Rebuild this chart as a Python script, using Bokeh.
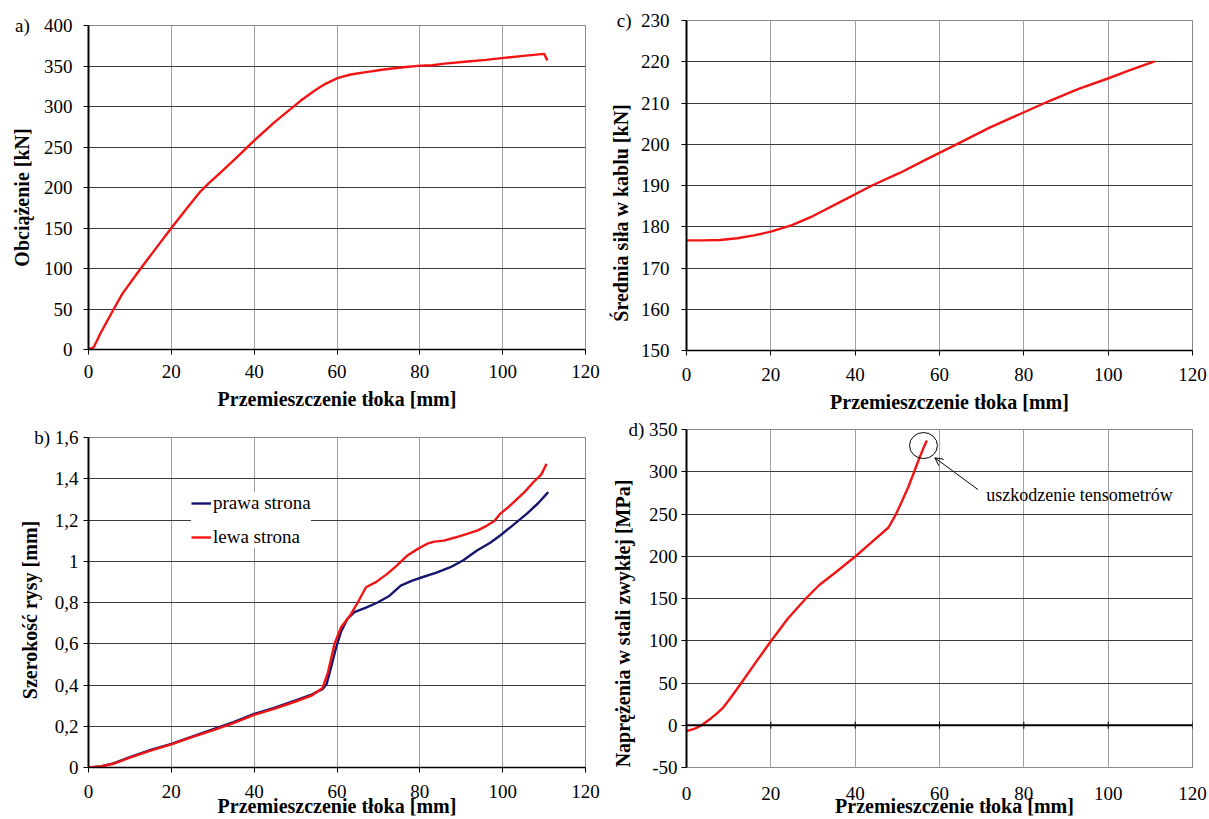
import math
from bokeh.plotting import figure
from bokeh.models import Range1d, FixedTicker, Label, Legend, LegendItem, Arrow, OpenHead, Span
from bokeh.layouts import column, row
from bokeh.embed import file_html
from bokeh.resources import INLINE

SERIF = "Liberation Serif"
NB = "\u00a0"

# ---------------- data ----------------
x_ticks = [0, 20, 40, 60, 80, 100, 120]
x_tick_labels = ["0", "20", "40", "60", "80", "100", "120"]
x_title = "Przemieszczenie tłoka [mm]"

# a) load vs piston displacement
a_y_ticks = [0, 50, 100, 150, 200, 250, 300, 350, 400]
a_y_tick_labels = ["0", "50", "100", "150", "200", "250", "300", "350", "400"]
a_x = [0, 1.3, 2.9, 4.5, 6.1, 8.2, 12.6, 16, 20, 24, 27, 29, 32, 36, 40,
       45, 51.2, 55, 57.2, 60.1, 63.3, 67, 71.3, 76, 80.2, 83, 86, 91.5, 96, 100.3, 105, 110, 110.8]
a_load = [0, 3, 20, 35, 50, 69, 100, 123, 150, 176, 195, 205, 219, 238, 258,
          281, 307, 321, 328, 335, 339.5, 342.5, 345.7, 348.5, 350.5, 351, 353, 355.6, 357.5, 360, 362.5, 365, 357]

# b) crack width
b_y_ticks = [0, 0.2, 0.4, 0.6, 0.8, 1.0, 1.2, 1.4, 1.6]
b_y_tick_labels = ["0", "0,2", "0,4", "0,6", "0,8", "1", "1,2", "1,4", "1,6"]
b_right_x = [0, 3, 6, 10, 15, 20, 25, 30, 35, 40, 45, 50, 54, 56.5, 57.5, 58.5, 59.8, 61, 62.5,
             64.2, 67, 69.8, 72.5, 75.4, 78, 80.2, 84, 87.4, 90.5, 93.8, 97, 99.4, 102.5, 105.8, 108.5, 111]
b_right_w = [0, 0.005, 0.02, 0.05, 0.085, 0.115, 0.15, 0.185, 0.22, 0.26, 0.29, 0.325, 0.355, 0.38,
             0.405, 0.48, 0.583, 0.66, 0.72, 0.753, 0.775, 0.80, 0.83, 0.882, 0.905, 0.92, 0.945,
             0.971, 1.005, 1.052, 1.09, 1.125, 1.175, 1.23, 1.28, 1.335]
b_left_x = [0, 3, 6, 10, 15, 20, 25, 30, 35, 40, 45, 50, 54, 56.5, 57.8, 59.4, 61, 63.4, 65, 67,
            69.5, 72.2, 74.5, 77, 79.5, 81.8, 83.5, 85.8, 88.5, 91.4, 94, 96.2, 98, 99.4, 101.5,
            103.4, 105.5, 107.4, 109.3, 110.6]
b_left_w = [0, 0.005, 0.018, 0.048, 0.082, 0.112, 0.147, 0.18, 0.215, 0.255, 0.285, 0.32, 0.35,
            0.385, 0.46, 0.60, 0.68, 0.745, 0.80, 0.874, 0.90, 0.94, 0.98, 1.028, 1.06, 1.085,
            1.095, 1.10, 1.115, 1.133, 1.15, 1.173, 1.195, 1.23, 1.265, 1.30, 1.34, 1.383, 1.42, 1.472]
b_series_names = ["prawa strona", "lewa strona"]

# c) average cable force
c_y_ticks = [150, 160, 170, 180, 190, 200, 210, 220, 230]
c_y_tick_labels = ["150", "160", "170", "180", "190", "200", "210", "220", "230"]
c_x = [0, 4, 8, 12, 16, 20, 25, 30, 37.2, 44, 50.7, 57, 64.5, 72, 79.9, 86.3, 93, 100.1, 105, 110.5, 111]
c_force = [176.7, 176.7, 176.8, 177.2, 177.9, 178.8, 180.4, 182.6, 186.4, 190, 193.1, 196.4,
           200.2, 204.1, 207.7, 210.6, 213.4, 216, 217.9, 219.9, 220]

# d) stress in ordinary steel
d_y_ticks = [-50, 0, 50, 100, 150, 200, 250, 300, 350]
d_y_tick_labels = ["-50", "0", "50", "100", "150", "200", "250", "300", "350"]
d_x = [0, 2, 3.6, 5.5, 7.1, 8.7, 10.3, 13, 16.5, 20.1, 24, 28.3, 31.5, 35.4, 40.1, 44, 47.9,
       49.5, 51.1, 52.6, 54, 55.2, 56.2, 57]
d_stress = [-7, -4, 0, 7, 13.5, 21, 31.3, 50, 75, 100, 126, 150, 166, 181, 200, 217, 234,
            248, 265, 282, 300, 316, 328, 337]
d_note_text = "uszkodzenie tensometrów"
d_circle_x, d_circle_y, d_circle_w, d_circle_h = [56.2], [331], 6.6, 30.8
d_arrow_from = (69.1, 279)
d_arrow_to = (58.9, 316.5)
d_note_pos = (71.1, 273)

RED = "#f21414"
NAVY = "#16166e"
LW = 2.4


def make_fig(width, height, left, right, top, bottom, y_rng, y_ticks, y_labels,
             letter, letter_gap, y_title, y_shift, x_shift,
             y_stand, y_title_stand, x_stand, x_title_stand):
    p = figure(width=width, height=height, x_range=Range1d(0, 120), y_range=Range1d(*y_rng),
               output_backend="svg", toolbar_location=None,
               min_border_left=left, min_border_right=right,
               min_border_top=top, min_border_bottom=bottom)
    p.background_fill_color = "white"
    p.border_fill_color = "white"
    p.outline_line_color = "#8a8a8a"
    p.outline_line_width = 1
    # panel letter sits on the same row as the top y tick label
    y_lab = list(y_labels)
    y_lab[-1] = letter + NB * letter_gap + y_lab[-1]
    for ax, ticks, labels, stand in ((p.xaxis[0], x_ticks, x_tick_labels, x_stand),
                                     (p.yaxis[0], y_ticks, y_lab, y_stand)):
        ax.ticker = FixedTicker(ticks=ticks)
        ax.major_label_overrides = dict(zip(ticks, labels))
        ax.major_label_text_font = SERIF
        ax.major_label_text_font_size = "19px"
        ax.major_label_text_color = "black"
        ax.major_label_standoff = stand
        ax.major_tick_out = 5
        ax.major_tick_in = 0
        ax.major_tick_line_color = "black"
        ax.minor_tick_line_color = None
        ax.axis_line_color = "black"
        ax.axis_line_width = 1.5
        ax.axis_label_text_font = SERIF
        ax.axis_label_text_font_size = "20px"
        ax.axis_label_text_font_style = "bold"
        ax.axis_label_text_color = "black"
    p.yaxis[0].axis_line_width = 2
    p.yaxis[0].axis_label = y_title + NB * y_shift
    p.yaxis[0].axis_label_standoff = y_title_stand
    p.xaxis[0].axis_label = NB * x_shift + x_title
    p.xaxis[0].axis_label_standoff = x_title_stand
    p.xgrid.grid_line_color = "#a0a0a0"
    p.ygrid.grid_line_color = "#3c3c3c"
    return p


# ---------- a ----------
pa = make_fig(600, 418, 88, 15, 25, 69, (0, 400), a_y_ticks, a_y_tick_labels,
              "a)", 3, "Obciążenie [kN]", 4, 0, 11, -21, 10, 7)
pa.line(a_x, a_load, line_color=RED, line_width=LW, line_join="round")

# ---------- b ----------
pb = make_fig(600, 401, 86, 14, 19, 52, (0, 1.6), b_y_ticks, b_y_tick_labels,
              "b)", 1, "Szerokość rysy [mm]", 3, 0, 5, -10, 12, -6)
r_right = pb.line(b_right_x, b_right_w, line_color=NAVY, line_width=LW, line_join="round")
r_left = pb.line(b_left_x, b_left_w, line_color=RED, line_width=LW, line_join="round")
legend = Legend(items=[LegendItem(label=b_series_names[0], renderers=[r_right]),
                       LegendItem(label=b_series_names[1], renderers=[r_left])],
                location=(103, 219), orientation="vertical",
                label_text_font=SERIF, label_text_font_size="19px", label_text_color="black",
                glyph_width=20, glyph_height=20, label_height=20, label_standoff=2,
                spacing=12, padding=8, margin=0,
                border_line_color=None, background_fill_color="white", background_fill_alpha=1.0)
pb.add_layout(legend)

# ---------- c ----------
pc = make_fig(609, 417, 86, 17, 20, 67, (150, 230), c_y_ticks, c_y_tick_labels,
              "c)", 2, "Średnia siła w kablu [kN]", 11, 4, 12, -18, 12, 7)
pc.line(c_x, c_force, line_color=RED, line_width=LW, line_join="round")

# ---------- d ----------
pd_ = make_fig(609, 402, 83, 16, 12, 52, (-50, 350), d_y_ticks, d_y_tick_labels,
               "d)", 1, "Naprężenia w stali zwykłej [MPa]", 10, 6, 4, -9, 14, -8)
pd_.xaxis[0].axis_line_color = "#8a8a8a"
pd_.xaxis[0].axis_line_width = 1
pd_.xaxis[0].major_tick_line_color = None
pd_.add_layout(Span(location=0, dimension="width", line_color="black", line_width=2))
pd_.scatter(x_ticks, [0] * len(x_ticks), marker="dash", angle=math.pi / 2, size=7,
            line_color="black", line_width=1)
pd_.line(d_x, d_stress, line_color=RED, line_width=LW, line_join="round")
pd_.ellipse(x=d_circle_x, y=d_circle_y, width=d_circle_w, height=d_circle_h,
            fill_color=None, line_color="black", line_width=1)
pd_.add_layout(Arrow(end=OpenHead(size=8, line_width=1, line_color="black"),
                     x_start=d_arrow_from[0], y_start=d_arrow_from[1],
                     x_end=d_arrow_to[0], y_end=d_arrow_to[1],
                     line_color="black", line_width=1))
pd_.add_layout(Label(x=d_note_pos[0], y=d_note_pos[1], text=d_note_text, text_font=SERIF,
                     text_font_size="18px", text_baseline="middle", text_align="left",
                     text_color="black"))

layout = row(column(pa, pb, spacing=0), column(pc, pd_, spacing=0), spacing=0)

open("out.html", "w").write(file_html(layout, INLINE))
